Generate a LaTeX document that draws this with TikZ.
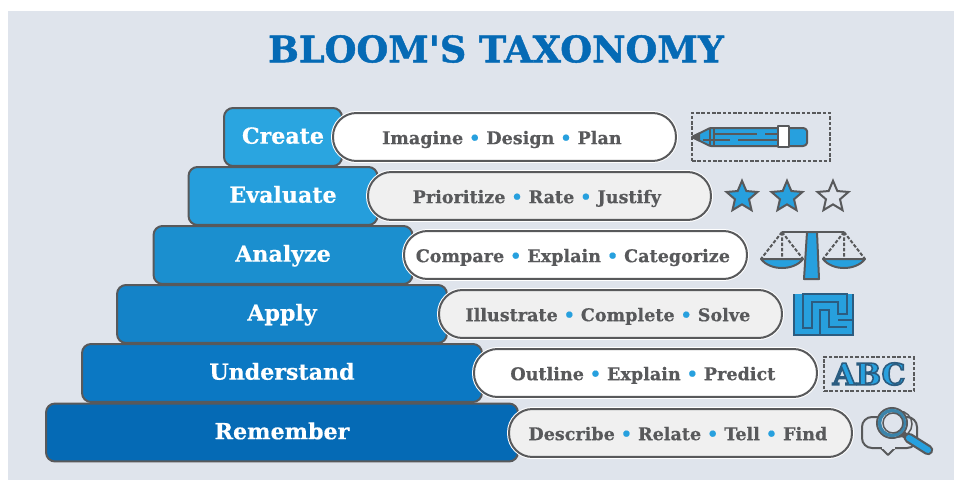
\documentclass[tikz,border=0pt]{standalone}
\usepackage{fontspec}
\setmainfont{DejaVu Serif}[BoldFeatures={FakeBold=0.5}]
\newfontfamily\titlefont{DejaVu Serif Bold}[FakeBold=1.2]
\newfontfamily\abcfont{DejaVu Serif Bold}
\usetikzlibrary{shapes.geometric, positioning}
\definecolor{panel}{RGB}{223,228,236}
\definecolor{edge}{RGB}{88,89,91}
\definecolor{mazeline}{RGB}{44,92,128}
\definecolor{titleblue}{RGB}{5,106,181}
\definecolor{skyblue}{RGB}{39,160,222}
\definecolor{createblue}{RGB}{42,165,224}
\definecolor{evalblue}{RGB}{37,158,220}
\definecolor{analyzeblue}{RGB}{27,143,207}
\definecolor{applyblue}{RGB}{20,131,200}
\definecolor{underblue}{RGB}{11,120,195}
\definecolor{rememblue}{RGB}{5,106,181}
\definecolor{pillgray}{RGB}{240,240,240}
\tikzstyle{level} = [rectangle, rounded corners=0.18cm, minimum height=1.16cm, text centered, draw=edge, line width=0.04cm, text=white, text height=10pt, text depth=2.4pt, font=\bfseries\fontsize{12.6}{14}\selectfont]
\tikzstyle{pill} = [rectangle, rounded corners=0.47cm, minimum width=6.86cm, minimum height=0.96cm, text centered, draw=edge, line width=0.04cm, text=edge, inner sep=0pt, text height=10pt, text depth=1.8pt, font=\bfseries\fontsize{10}{11}\selectfont, execute at end node=\hspace{3pt}, preaction={draw=white, line width=0.08cm}]
\tikzstyle{icon} = [draw=edge, line width=0.04cm, line join=round]
\tikzstyle{mazewall} = [draw=mazeline, line width=0.05cm, line join=miter]
\tikzstyle{dashbox} = [rectangle, draw=edge, dashed, line width=0.04cm, dash pattern=on 2pt off 1pt]
\tikzstyle{staricon} = [star, star points=5, star point ratio=2.2, minimum size=0.65cm, inner sep=0pt, draw=edge, line width=0.04cm]
\newcommand{\dotsep}{\hspace{3.4pt}{\color{skyblue}\textbullet}\hspace{3.4pt}}
\begin{document}
\begin{tikzpicture}[x=0.02cm,y=-0.02cm]
\useasboundingbox (0,0) rectangle (954,480);
\fill [white] (0,0) rectangle (954,480);
\fill [panel] (8,11) rectangle (954,480);

\node (title) [text=titleblue, font=\titlefont\fontsize{20.8}{24}\selectfont] at (496,49) {BLOOM'S TAXONOMY};

\node (create) [level, fill=createblue, minimum width=2.36cm] at (283,137) {Create};
\node (evaluate) [level, fill=evalblue, minimum width=3.78cm] at (283,196) {Evaluate};
\node (analyze) [level, fill=analyzeblue, minimum width=5.18cm] at (283,255) {Analyze};
\node (apply) [level, fill=applyblue, minimum width=6.6cm] at (282,314) {Apply};
\node (understand) [level, fill=underblue, minimum width=8cm] at (282,373) {Understand};
\node (remember) [level, fill=rememblue, minimum width=9.44cm] at (282,432.5) {Remember};

\node (imagine) [pill, fill=white] at (504.5,137) {Imagine\dotsep Design\dotsep Plan};
\node (prioritize) [pill, fill=pillgray] at (539.5,196) {Prioritize\dotsep Rate\dotsep Justify};
\node (compare) [pill, fill=white] at (575.5,255) {Compare\dotsep Explain\dotsep Categorize};
\node (illustrate) [pill, fill=pillgray] at (610.5,314) {Illustrate\dotsep Complete\dotsep Solve};
\node (outline) [pill, fill=white] at (645.5,373) {Outline\dotsep Explain\dotsep Predict};
\node (describe) [pill, fill=pillgray] at (680.5,433) {Describe\dotsep Relate\dotsep Tell\dotsep Find};

\node (pencilbox) [dashbox, minimum width=2.76cm, minimum height=0.96cm] at (761,137) {};
\draw [icon, fill=skyblue, rounded corners=0.02cm] (710,128) -- (804,128) -- (807,130) -- (807,144) -- (804,146) -- (710,146) -- (692,137) -- cycle;
\draw [icon, fill=edge] (692,137) -- (699,133.5) -- (699,140.5) -- cycle;
\draw [icon] (710,128) -- (710,146) (714,128) -- (714,146);
\draw [icon] (714,134) -- (757,134) (765,134) -- (778,134);
\draw [icon] (703,140) -- (730,140) (738,140) -- (778,140);
\draw [icon, fill=white] (778,126) rectangle (789,147);

\node (star1) [staricon, fill=skyblue] at (742,197) {};
\node (star2) [staricon, fill=skyblue] at (787,197) {};
\node (star3) [staricon] at (833,197) {};

\draw [icon] (782,232) -- (844,232);
\draw [icon, fill=skyblue] (807,232) -- (817,232) -- (819,279) -- (804,279) -- cycle;
\draw [icon, dashed, dash pattern=on 2pt off 1pt] (782,232) -- (761,259) (782,232) -- (803,259) (782,232) -- (782,259);
\draw [icon, dashed, dash pattern=on 2pt off 1pt] (844,232) -- (823,259) (844,232) -- (865,259) (844,232) -- (844,259);
\draw [icon, fill=skyblue] (761,259) -- (803,259) .. controls (794,271) and (770,271) .. cycle;
\draw [icon, fill=skyblue] (823,259) -- (865,259) .. controls (856,271) and (832,271) .. cycle;

\fill [skyblue] (794,294) rectangle (853,335);
\draw [mazewall] (794,294) -- (794,335) -- (853,335) -- (853,294);
\draw [mazewall] (803,328) -- (803,294) -- (847,294) -- (847,314) -- (838,314) -- (838,302) -- (812,302) -- (812,328) -- cycle;
\draw [mazewall] (820,335) -- (820,310) -- (829,310) -- (829,327) -- (847,327);
\draw [mazewall] (838,320) -- (853,320);

\node (abcbox) [dashbox, minimum width=1.8cm, minimum height=0.68cm] at (869,374) {};
\node (abc) [text=skyblue, font=\abcfont\fontsize{17}{19}\selectfont] at (869,374) {\special{pdf:code q 2 Tr 0.9 w 0.17 0.36 0.5 RG}ABC\special{pdf:code Q}};

\draw [icon, fill=panel, rounded corners=0.2cm] (862,417) rectangle (917,448);
\draw [icon, fill=panel] (881,448) -- (888,455) -- (895,448);
\draw [draw=panel, line width=0.06cm] (881.5,447.5) -- (894.5,447.5);
\draw [draw=edge, line width=0.03cm] (899,424) circle (13);
\draw [draw=edge, line width=0.12cm, line cap=round] (902,433) -- (908,438);
\draw [draw=edge, line width=0.21cm, line cap=round] (909,438) -- (928,450);
\draw [skyblue, line width=0.12cm, line cap=round] (909,438) -- (928,450);
\draw [draw=edge, line width=0.04cm, fill=panel] (892,423) circle (15);
\draw [draw=skyblue!60!edge, line width=0.07cm] (892,423) circle (12.5);
\draw [draw=edge, line width=0.03cm] (893,423) circle (10);
\end{tikzpicture}
\end{document}
